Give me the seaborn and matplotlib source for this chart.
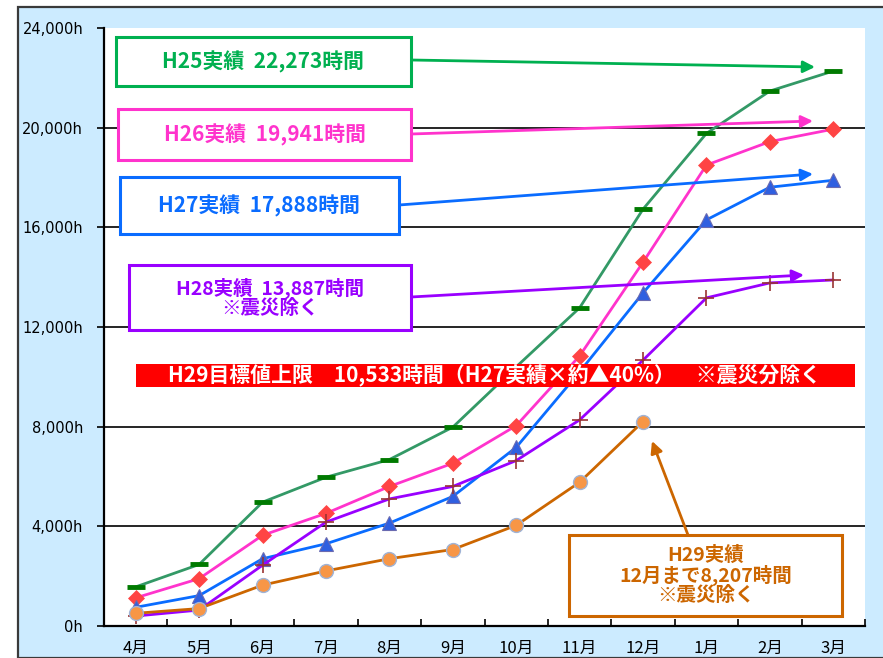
import numpy as np
import pandas as pd
import matplotlib
matplotlib.use("Agg")
import matplotlib.pyplot as plt
from matplotlib.patches import Rectangle
import seaborn as sns

# ---------------- data ----------------
months = ["4月", "5月", "6月", "7月", "8月", "9月", "10月", "11月", "12月", "1月", "2月", "3月"]
h25 = [1570, 2470, 4970, 5970, 6680, 7980, 10400, 12770, 16730, 19770, 21470, 22273]
h26 = [1130, 1900, 3640, 4520, 5600, 6530, 8040, 10840, 14600, 18500, 19440, 19941]
h27 = [750, 1220, 2700, 3300, 4130, 5200, 7170, 10200, 13370, 16300, 17610, 17888]
h28 = [400, 640, 2440, 4170, 5100, 5600, 6640, 8270, 10670, 13170, 13770, 13887]
h29 = [510, 700, 1640, 2210, 2700, 3070, 4040, 5770, 8207]
yticks = [0, 4000, 8000, 12000, 16000, 20000, 24000]
ytick_labels = ["0h", "4,000h", "8,000h", "12,000h", "16,000h", "20,000h", "24,000h"]

labels_h25 = "H25実績  22,273時間"
labels_h26 = "H26実績  19,941時間"
labels_h27 = "H27実績  17,888時間"
labels_h28 = "H28実績  13,887時間\n※震災除く"
label_target = "H29目標値上限　10,533時間（H27実績×約▲40%）　※震災分除く"
label_h29 = "H29実績\n12月まで8,207時間\n※震災除く"

# ---------------- style ----------------
sns.set_theme(style="white")
plt.rcParams["font.family"] = ["Noto Sans CJK JP", "DejaVu Sans"]

W, H = 883, 658
fig = plt.figure(figsize=(W / 100, H / 100), dpi=100)
fig.patch.set_facecolor("white")

def fx(px):
    return px / W

def fy(py):
    return 1 - py / H

# outer light-blue frame
fig.patches.append(Rectangle((fx(18), 0), 1 - fx(18) + 0.01, fy(7), transform=fig.transFigure,
                             facecolor="#CCEBFF", edgecolor="#3a3a3a", lw=1.6, zorder=-5))

ax = fig.add_axes([fx(104), fy(626), fx(865) - fx(104), fy(28) - fy(626)])
ax.set_zorder(1)
ax.set_facecolor("white")

x = np.arange(len(months))
series = [
    (h25, "#339966", "_", "#007A00", "#007A00", 13, 3.5),
    (h26, "#FF33CC", "D", "#FF4444", "#FF4444", 8, 0.5),
    (h27, "#0A6CFF", "^", "#2F5FE0", "#6A6AB0", 10, 0.8),
    (h28, "#9900FF", "+", "#993333", "#993333", 11, 1.2),
    (h29, "#CC6600", "o", "#F79646", "#9FB3D6", 10, 1.0),
]
for vals, lc, mk, mfc, mec, ms, mew in series:
    df = pd.DataFrame({"x": x[:len(vals)], "y": vals})
    sns.lineplot(data=df, x="x", y="y", ax=ax, color=lc, lw=2.0, marker=mk, markersize=ms,
                 markerfacecolor=mfc, markeredgecolor=mec, markeredgewidth=mew, zorder=3)

ax.set_xlim(-0.5, len(months) - 0.5)
ax.set_ylim(0, 24000)
ax.set_xlabel("")
ax.set_ylabel("")
for yv in yticks[1:-1]:
    ax.axhline(yv, color="black", lw=1.2, zorder=1)

ax.set_yticks(yticks)
ax.set_yticklabels(ytick_labels, family="DejaVu Sans", fontsize=10.5)
ax.tick_params(axis="y", which="major", direction="out", length=5, width=1.2, pad=10, colors="black", left=True)
ax.set_xticks(x)
ax.set_xticklabels(months, fontsize=12)
ax.tick_params(axis="x", which="major", length=0, pad=10, colors="black")
ax.set_xticks(np.arange(-0.5, len(months), 1.0), minor=True)
ax.tick_params(axis="x", which="minor", direction="in", length=5, width=1.2, color="black", bottom=True)

for s in ["top", "right"]:
    ax.spines[s].set_visible(False)
for s in ["left", "bottom"]:
    ax.spines[s].set_color("black")
    ax.spines[s].set_linewidth(1.6)

# ---------------- annotations ----------------
def box(x0, y0, x1, y1, color, text, fs=15, lsp=1.1):
    fig.patches.append(Rectangle((fx(x0), fy(y1)), fx(x1) - fx(x0), fy(y0) - fy(y1),
                                 transform=fig.transFigure, facecolor="white", edgecolor=color,
                                 lw=2.2, zorder=5))
    fig.text(fx((x0 + x1) / 2), fy((y0 + y1) / 2), text, ha="center", va="center", color=color,
             fontsize=fs, fontweight="bold", linespacing=lsp, zorder=6)

def arrow(x0, y0, x1, y1, color):
    fig.add_artist(matplotlib.patches.FancyArrowPatch(
        (fx(x0), fy(y0)), (fx(x1), fy(y1)), transform=fig.transFigure,
        arrowstyle="-|>,head_length=7,head_width=3.5", color=color, lw=2.0,
        shrinkA=0, shrinkB=0, zorder=4))

box(116, 37, 411, 86, "#00B050", labels_h25)
arrow(411, 60, 815, 67, "#00B050")
box(118, 109, 411, 160, "#FF33CC", labels_h26)
arrow(411, 134, 813, 121, "#FF33CC")
box(120, 177, 399, 234, "#0A6CFF", labels_h27)
arrow(399, 205, 813, 174, "#0A6CFF")
box(129, 265, 411, 330, "#9900FF", labels_h28, fs=14, lsp=1.0)
arrow(411, 297, 804, 275, "#9900FF")

fig.patches.append(Rectangle((fx(136), fy(387)), fx(855) - fx(136), fy(364) - fy(387),
                             transform=fig.transFigure, facecolor="#FF0000", edgecolor="none", zorder=5))
fig.text(fx(494), fy(376), label_target, ha="center", va="center", color="white",
         fontsize=15, fontweight="bold", zorder=6)

box(569, 535, 842, 616, "#CC6600", label_h29, fs=14, lsp=1.0)
arrow(688, 535, 652, 441, "#CC6600")

fig.savefig("out.png", dpi=100, facecolor=fig.get_facecolor())
